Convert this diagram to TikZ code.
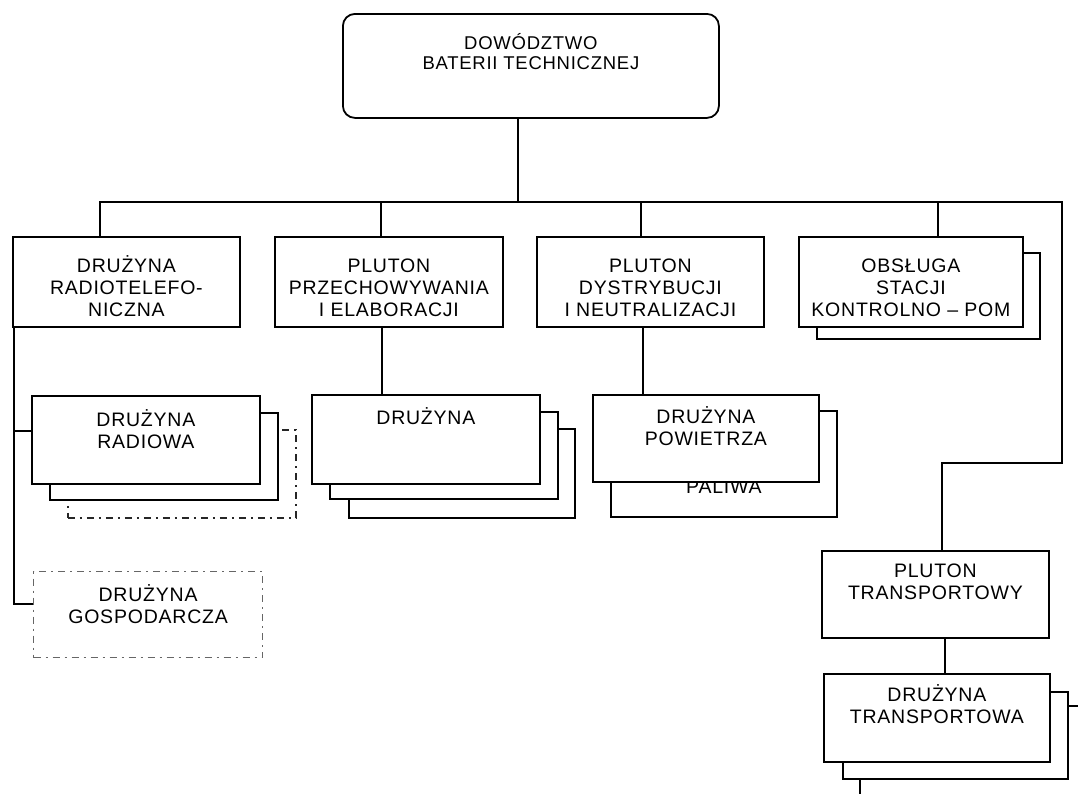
\documentclass[tikz,border=0pt]{standalone}
\usepackage{fontspec}
\setmainfont{Liberation Sans}
\newfontfamily\chartfont[LetterSpace=4]{Liberation Sans}
\usetikzlibrary{positioning}

\begin{document}
\begin{tikzpicture}[x=1pt, y=-1pt, line width=1.8pt,
        box/.style={draw, fill=white, anchor=north west, inner sep=0pt},
        dashbox/.style={box, draw=black!60, line width=1.2pt, dash pattern=on 7pt off 5pt on 2pt off 5pt},
        txt/.style={anchor=base, align=center, inner sep=0pt, font=\chartfont\fontsize{19.5}{22}\selectfont}]
        \useasboundingbox (0,0) rectangle (1078,793);
        \clip (0,0) rectangle (1078,793);

        % dowodztwo (text nodes sit on the baseline of their last line)
        \node[box, rounded corners=12pt, minimum width=376pt, minimum height=104pt] (dow) at (342,13) {};
        \node[txt, font=\chartfont\fontsize{18.5}{20}\selectfont] (dowT) at ([yshift=-56pt]dow.north) {DOWÓDZTWO\\BATERII TECHNICZNEJ};

        % first row
        \node[box, minimum width=227pt, minimum height=90pt] (radtel) at (12,236) {};
        \node[txt] (radtelT) at ([yshift=-80pt]radtel.north) {DRUŻYNA\\RADIOTELEFO-\\NICZNA};
        \node[box, minimum width=228pt, minimum height=90pt] (plprzech) at (274,236) {};
        \node[txt] (plprzechT) at ([yshift=-80pt]plprzech.north) {PLUTON\\PRZECHOWYWANIA\\I ELABORACJI};
        \node[box, minimum width=227pt, minimum height=90pt] (pldystr) at (536,236) {};
        \node[txt] (pldystrT) at ([yshift=-80pt]pldystr.north) {PLUTON\\DYSTRYBUCJI\\I NEUTRALIZACJI};
        \node[box, minimum width=223pt, minimum height=86pt] (obslS) at (816,252) {};
        \node[box, minimum width=224pt, minimum height=90pt] (obsl) at (798,236) {};
        \node[txt] (obslT) at ([yshift=-80pt]obsl.north) {OBSŁUGA\\STACJI\\KONTROLNO – POM};

        % second row
        \node[dashbox, draw=black!85, line width=1.5pt, minimum width=228pt, minimum height=88pt] (radiowaS2) at (67,429) {};
        \node[box, minimum width=228pt, minimum height=87pt] (radiowaS1) at (49,412) {};
        \node[box, minimum width=228pt, minimum height=88pt] (radiowa) at (31,395) {};
        \node[txt] (radiowaT) at ([yshift=-53pt]radiowa.north) {DRUŻYNA\\RADIOWA};

        \node[box, minimum width=226pt, minimum height=89pt] (druzS2) at (348,428) {};
        \node[box, minimum width=228pt, minimum height=87pt] (druzS1) at (329,411) {};
        \node[box, minimum width=228pt, minimum height=89pt] (druz) at (311,394) {};
        \node[txt] (druzT) at ([yshift=-30pt]druz.north) {DRUŻYNA};

        \node[box, minimum width=226pt, minimum height=106pt] (powS) at (610,410) {};
        \node[txt] (powST) at (powS.center |- 0,493) {PALIWA};
        \node[box, minimum width=226pt, minimum height=87pt] (pow) at (592,394) {};
        \node[txt] (powT) at ([yshift=-51pt]pow.north) {DRUŻYNA\\POWIETRZA};

        \node[dashbox, minimum width=229pt, minimum height=86pt] (gosp) at (33,571) {};
        \node[txt] (gospT) at ([yshift=-52pt]gosp.north) {DRUŻYNA\\GOSPODARCZA};

        % transport
        \node[box, minimum width=227pt, minimum height=87pt] (pltrans) at (821,550) {};
        \node[txt] (pltransT) at ([yshift=-49pt]pltrans.north) {PLUTON\\TRANSPORTOWY};
        \node[box, minimum width=241pt, minimum height=115pt] (drtransS2) at (859,705) {};
        \node[box, minimum width=225pt, minimum height=87pt] (drtransS1) at (842,691) {};
        \node[box, minimum width=226pt, minimum height=88pt] (drtrans) at (823,673) {};
        \node[txt] (drtransT) at ([yshift=-50pt]drtrans.north) {DRUŻYNA\\TRANSPORTOWA};

        \coordinate (busR) at (1062,202);
        \coordinate (jog) at (1062,463);
        \coordinate (rtl) at ([xshift=2pt]radtel.south west);

        \draw ([xshift=-13pt]dow.south) -- ([xshift=-13pt]dow.south |- busR);
        \draw ([xshift=-26.5pt]radtel.north) |- (busR) -- (jog) -| ([xshift=6.5pt]pltrans.north);
        \draw ([xshift=-8pt]plprzech.north) -- ([xshift=-8pt]plprzech.north |- busR);
        \draw ([xshift=-9.5pt]pldystr.north) -- ([xshift=-9.5pt]pldystr.north |- busR);
        \draw ([xshift=27pt]obsl.north) -- ([xshift=27pt]obsl.north |- busR);

        \draw (rtl) |- ([yshift=11pt]gosp.west);
        \draw ([yshift=9pt]radiowa.west) -| (rtl);
        \draw ([xshift=-7pt]plprzech.south) -- ([xshift=-7pt]plprzech.south |- druz.north);
        \draw ([xshift=-7.5pt]pldystr.south) -- ([xshift=-7.5pt]pldystr.south |- pow.north);
        \draw ([xshift=9.5pt]pltrans.south) -- ([xshift=9.5pt]pltrans.south |- drtrans.north);
\end{tikzpicture}
\end{document}
